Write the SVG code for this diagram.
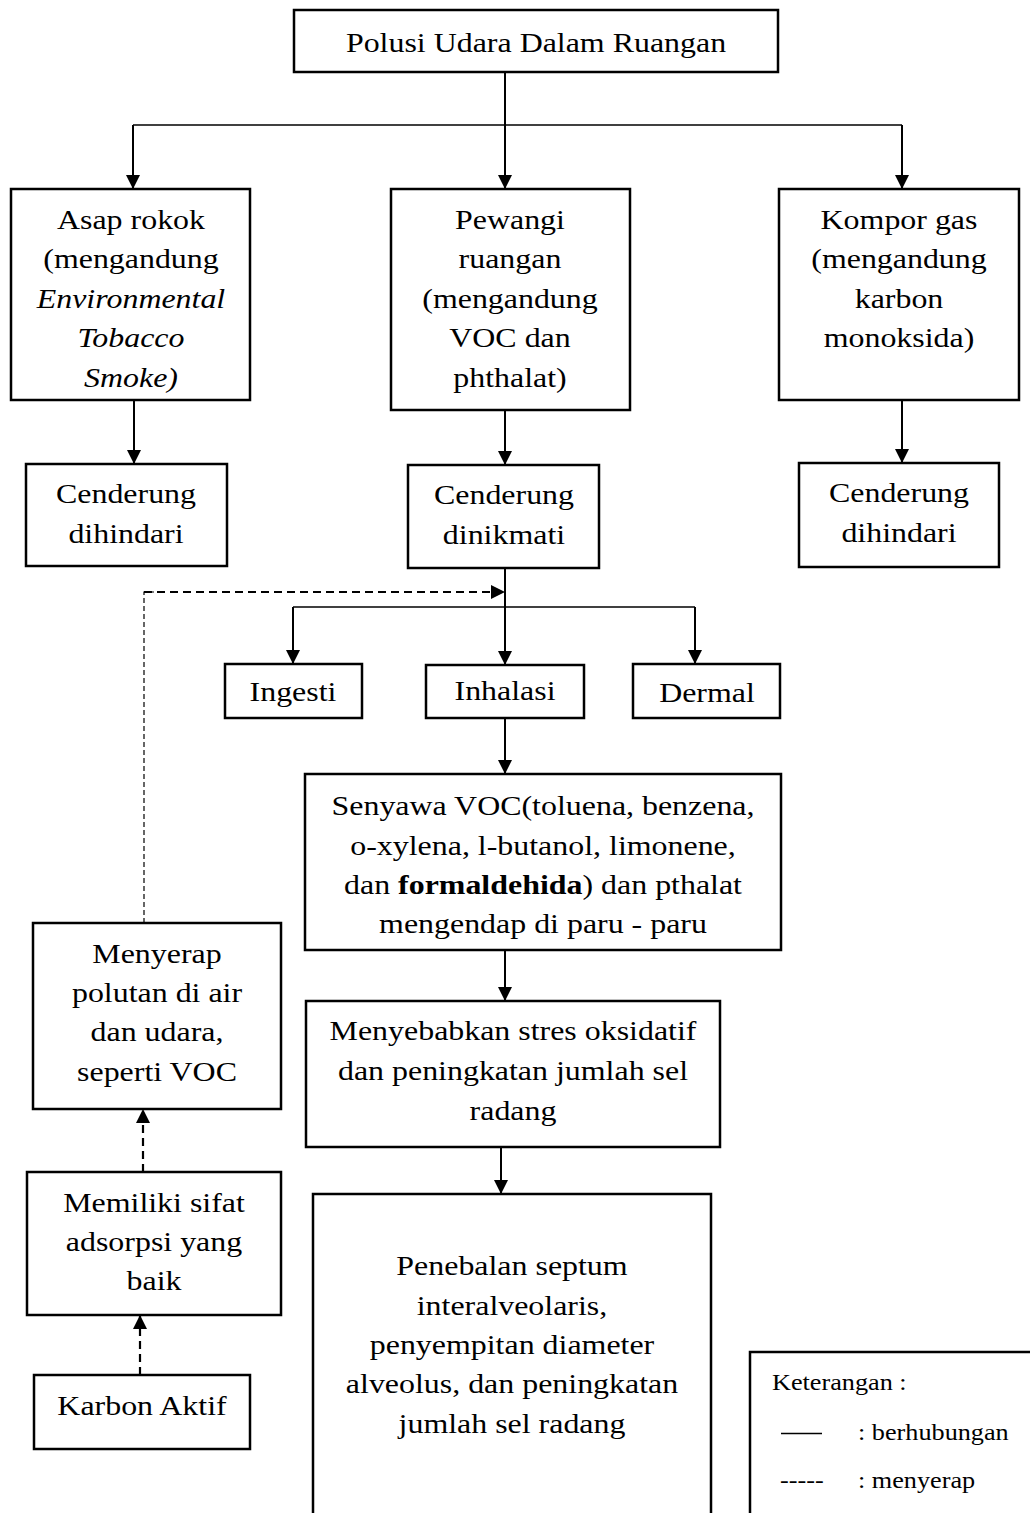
<svg xmlns="http://www.w3.org/2000/svg" width="1030" height="1513" viewBox="0 0 1030 1513">
<defs>
<marker id="ah" viewBox="0 0 10 10" refX="10" refY="5" markerWidth="14" markerHeight="14" markerUnits="userSpaceOnUse" orient="auto">
<path d="M0,0 L10,5 L0,10 z" fill="#000"/>
</marker>
<style>
.box{fill:#fff;stroke:#000;stroke-width:2.5}
.t{font-family:"Liberation Serif","Times New Roman",serif;font-size:28px;fill:#000;text-anchor:middle}
.lg{font-family:"Liberation Serif","Times New Roman",serif;font-size:23px;fill:#000}
.c{fill:none;stroke:#000;stroke-width:2}
.thin{fill:none;stroke:#000;stroke-width:1.3}
.d{fill:none;stroke:#000;stroke-width:2.2;stroke-dasharray:8 5}
.dt{fill:none;stroke:#000;stroke-width:1.2;stroke-dasharray:5 3}
</style>
</defs>
<rect width="1030" height="1513" fill="#fff"/>
<g id="connectors">
<line class="c" x1="505" y1="72" x2="505" y2="189" marker-end="url(#ah)"/>
<line class="thin" x1="133" y1="125" x2="902" y2="125"/>
<line class="c" x1="133" y1="125" x2="133" y2="189" marker-end="url(#ah)"/>
<line class="c" x1="902" y1="125" x2="902" y2="189" marker-end="url(#ah)"/>
<line class="c" x1="134" y1="400" x2="134" y2="464" marker-end="url(#ah)"/>
<line class="c" x1="505" y1="410" x2="505" y2="465" marker-end="url(#ah)"/>
<line class="c" x1="902" y1="400" x2="902" y2="463" marker-end="url(#ah)"/>
<line class="c" x1="505" y1="568" x2="505" y2="665" marker-end="url(#ah)"/>
<line class="thin" x1="293" y1="607" x2="695" y2="607"/>
<line class="c" x1="293" y1="607" x2="293" y2="664" marker-end="url(#ah)"/>
<line class="c" x1="695" y1="607" x2="695" y2="664" marker-end="url(#ah)"/>
<line class="c" x1="505" y1="718" x2="505" y2="774" marker-end="url(#ah)"/>
<line class="c" x1="505" y1="950" x2="505" y2="1001" marker-end="url(#ah)"/>
<line class="c" x1="501" y1="1147" x2="501" y2="1194" marker-end="url(#ah)"/>
<polyline class="dt" points="144,923 144,592 160,592"/>
<line class="d" x1="144" y1="592" x2="505" y2="592" marker-end="url(#ah)"/>
<line class="d" x1="143" y1="1172" x2="143" y2="1109" marker-end="url(#ah)"/>
<line class="d" x1="140" y1="1375" x2="140" y2="1315" marker-end="url(#ah)"/>
</g>
<g id="n-polusi">
<rect class="box" x="294" y="10" width="484" height="62"/>
<text class="t" transform="translate(536 52) scale(1.14 1)">Polusi Udara Dalam Ruangan</text>
</g>
<g id="n-asap">
<rect class="box" x="11" y="189" width="239" height="211"/>
<text class="t" transform="translate(131 229) scale(1.14 1)">Asap rokok</text>
<text class="t" transform="translate(131 268) scale(1.14 1)">(mengandung</text>
<text class="t" transform="translate(131 308) scale(1.14 1)" font-style="italic">Environmental</text>
<text class="t" transform="translate(131 347) scale(1.14 1)" font-style="italic">Tobacco</text>
<text class="t" transform="translate(131 387) scale(1.14 1)" font-style="italic">Smoke)</text>
</g>
<g id="n-pewangi">
<rect class="box" x="391" y="189" width="239" height="221"/>
<text class="t" transform="translate(510 229) scale(1.14 1)">Pewangi</text>
<text class="t" transform="translate(510 268) scale(1.14 1)">ruangan</text>
<text class="t" transform="translate(510 308) scale(1.14 1)">(mengandung</text>
<text class="t" transform="translate(510 347) scale(1.14 1)">VOC dan</text>
<text class="t" transform="translate(510 387) scale(1.14 1)">phthalat)</text>
</g>
<g id="n-kompor">
<rect class="box" x="779" y="189" width="240" height="211"/>
<text class="t" transform="translate(899 229) scale(1.14 1)">Kompor gas</text>
<text class="t" transform="translate(899 268) scale(1.14 1)">(mengandung</text>
<text class="t" transform="translate(899 308) scale(1.14 1)">karbon</text>
<text class="t" transform="translate(899 347) scale(1.14 1)">monoksida)</text>
</g>
<g id="n-dihindari1">
<rect class="box" x="26" y="464" width="201" height="102"/>
<text class="t" transform="translate(126 503) scale(1.14 1)">Cenderung</text>
<text class="t" transform="translate(126 543) scale(1.14 1)">dihindari</text>
</g>
<g id="n-dinikmati">
<rect class="box" x="408" y="465" width="191" height="103"/>
<text class="t" transform="translate(504 504) scale(1.14 1)">Cenderung</text>
<text class="t" transform="translate(504 544) scale(1.14 1)">dinikmati</text>
</g>
<g id="n-dihindari2">
<rect class="box" x="799" y="463" width="200" height="104"/>
<text class="t" transform="translate(899 502) scale(1.14 1)">Cenderung</text>
<text class="t" transform="translate(899 542) scale(1.14 1)">dihindari</text>
</g>
<g id="n-ingesti">
<rect class="box" x="225" y="664" width="137" height="54"/>
<text class="t" transform="translate(293 701) scale(1.14 1)">Ingesti</text>
</g>
<g id="n-inhalasi">
<rect class="box" x="426" y="665" width="158" height="53"/>
<text class="t" transform="translate(505 700) scale(1.14 1)">Inhalasi</text>
</g>
<g id="n-dermal">
<rect class="box" x="633" y="664" width="147" height="54"/>
<text class="t" transform="translate(707 702) scale(1.14 1)">Dermal</text>
</g>
<g id="n-senyawa">
<rect class="box" x="305" y="774" width="476" height="176"/>
<text class="t" transform="translate(543 815) scale(1.14 1)">Senyawa VOC(toluena, benzena,</text>
<text class="t" transform="translate(543 855) scale(1.14 1)">o-xylena, l-butanol, limonene,</text>
<text class="t" transform="translate(543 894) scale(1.14 1)">dan <tspan font-weight="bold">formaldehida</tspan>) dan pthalat</text>
<text class="t" transform="translate(543 933) scale(1.14 1)">mengendap di paru - paru</text>
</g>
<g id="n-stres">
<rect class="box" x="306" y="1001" width="414" height="146"/>
<text class="t" transform="translate(513 1040) scale(1.14 1)">Menyebabkan stres oksidatif</text>
<text class="t" transform="translate(513 1080) scale(1.14 1)">dan peningkatan jumlah sel</text>
<text class="t" transform="translate(513 1120) scale(1.14 1)">radang</text>
</g>
<g id="n-penebalan">
<rect class="box" x="313" y="1194" width="398" height="330"/>
<text class="t" transform="translate(512 1275) scale(1.14 1)">Penebalan septum</text>
<text class="t" transform="translate(512 1315) scale(1.14 1)">interalveolaris,</text>
<text class="t" transform="translate(512 1354) scale(1.14 1)">penyempitan diameter</text>
<text class="t" transform="translate(512 1393) scale(1.14 1)">alveolus, dan peningkatan</text>
<text class="t" transform="translate(512 1433) scale(1.14 1)">jumlah sel radang</text>
</g>
<g id="n-menyerap">
<rect class="box" x="33" y="923" width="248" height="186"/>
<text class="t" transform="translate(157 963) scale(1.14 1)">Menyerap</text>
<text class="t" transform="translate(157 1002) scale(1.14 1)">polutan di air</text>
<text class="t" transform="translate(157 1041) scale(1.14 1)">dan udara,</text>
<text class="t" transform="translate(157 1081) scale(1.14 1)">seperti VOC</text>
</g>
<g id="n-memiliki">
<rect class="box" x="27" y="1172" width="254" height="143"/>
<text class="t" transform="translate(154 1212) scale(1.14 1)">Memiliki sifat</text>
<text class="t" transform="translate(154 1251) scale(1.14 1)">adsorpsi yang</text>
<text class="t" transform="translate(154 1290) scale(1.14 1)">baik</text>
</g>
<g id="n-karbon">
<rect class="box" x="34" y="1375" width="216" height="74"/>
<text class="t" transform="translate(142 1415) scale(1.14 1)">Karbon Aktif</text>
</g>
<g id="legend">
<rect class="box" x="750" y="1352" width="300" height="180"/>
<text class="lg" transform="translate(772 1390) scale(1.14 1)">Keterangan :</text>
<line x1="781" y1="1433.5" x2="822" y2="1433.5" stroke="#000" stroke-width="1.5"/>
<text class="lg" transform="translate(858 1440) scale(1.14 1)">: berhubungan</text>
<text class="lg" transform="translate(780 1488) scale(1.14 1)">-----</text>
<text class="lg" transform="translate(858 1488) scale(1.14 1)">: menyerap</text>
</g>
</svg>
